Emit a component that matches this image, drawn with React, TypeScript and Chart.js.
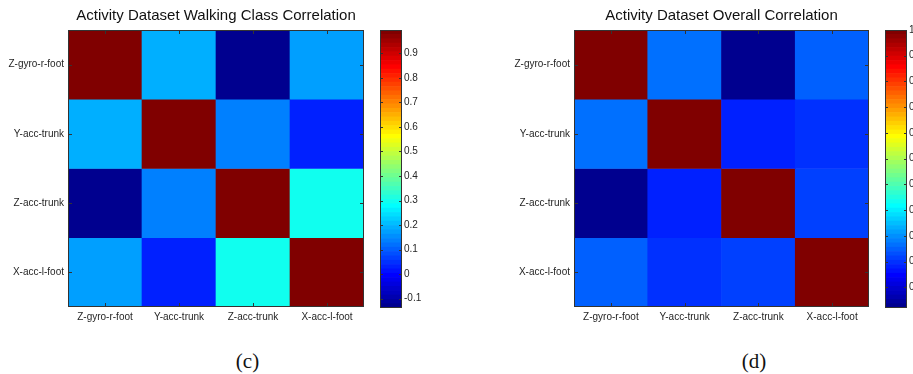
import { useEffect, useRef } from 'react';
import { Chart, registerables } from 'chart.js';

Chart.register(...registerables);

// Sensor channels, used for both matrix axes (top-to-bottom / left-to-right)
const FEATURES = ['Z-gyro-r-foot', 'Y-acc-trunk', 'Z-acc-trunk', 'X-acc-l-foot'];

// Walking class correlation matrix, one row per channel
const walkingZGyroRFoot = [0.995, 0.19, -0.138, 0.17];
const walkingYAccTrunk = [0.19, 0.995, 0.135, 0.03];
const walkingZAccTrunk = [-0.138, 0.135, 0.995, 0.3];
const walkingXAccLFoot = [0.17, 0.03, 0.3, 0.995];

// Overall correlation matrix, one row per channel
const overallZGyroRFoot = [1, 0.165, -0.08, 0.14];
const overallYAccTrunk = [0.165, 1, 0.085, 0.105];
const overallZAccTrunk = [-0.08, 0.085, 1, 0.12];
const overallXAccLFoot = [0.14, 0.105, 0.12, 1];

const WALKING_ROWS = [walkingZGyroRFoot, walkingYAccTrunk, walkingZAccTrunk, walkingXAccLFoot];
const OVERALL_ROWS = [overallZGyroRFoot, overallYAccTrunk, overallZAccTrunk, overallXAccLFoot];

const WALKING_TITLE = 'Activity Dataset Walking Class Correlation';
const OVERALL_TITLE = 'Activity Dataset Overall Correlation';
const COLORBAR_STEP = 0.1;

const SANS = 'Liberation Sans, Arial, Helvetica, sans-serif';
const CANVAS_H = 330;
const LEVELS = 64;

// Classic 64-level jet colormap
function jetU(k: number) {
  if (k < 1 || k > 47) return 0;
  if (k <= 16) return k / 16;
  if (k <= 31) return 1;
  return (48 - k) / 16;
}
function jet(i: number) {
  const n = i + 1;
  const c = [jetU(n - 24), jetU(n - 8), jetU(n + 8)].map((v) => Math.round(v * 255));
  return `rgb(${c[0]},${c[1]},${c[2]})`;
}
function levelOf(v: number, cmin: number, cmax: number) {
  return Math.min(LEVELS - 1, Math.max(0, Math.floor(((v - cmin) / (cmax - cmin)) * LEVELS)));
}

// Axes box with inward tick marks on every side
const frameTicks = {
  id: 'frameTicks',
  afterDatasetsDraw(chart: any, _args: any, opts: any) {
    const { ctx, chartArea: a } = chart;
    const len = opts.length;
    ctx.save();
    ctx.strokeStyle = opts.color;
    ctx.lineWidth = 1;
    ctx.beginPath();
    const xs = opts.xAxis ? chart.scales[opts.xAxis] : null;
    const ys = opts.yAxis ? chart.scales[opts.yAxis] : null;
    if (xs) {
      xs.ticks.forEach((_t: any, i: number) => {
        const x = Math.round(xs.getPixelForTick(i)) + 0.5;
        ctx.moveTo(x, a.bottom);
        ctx.lineTo(x, a.bottom - len);
        ctx.moveTo(x, a.top);
        ctx.lineTo(x, a.top + len);
      });
    }
    if (ys) {
      ys.ticks.forEach((_t: any, i: number) => {
        const y = Math.round(ys.getPixelForTick(i)) + 0.5;
        ctx.moveTo(a.left, y);
        ctx.lineTo(a.left + len, y);
        ctx.moveTo(a.right, y);
        ctx.lineTo(a.right - len, y);
      });
    }
    ctx.stroke();
    ctx.strokeRect(Math.round(a.left) + 0.5, Math.round(a.top) + 0.5, Math.round(a.right - a.left) - 1, Math.round(a.bottom - a.top) - 1);
    ctx.restore();
  },
};

type Geom = {
  heatLeft: number;
  heatWidth: number;
  yAxisWidth: number;
  padRight: number;
  barLeft: number;
  barWidth: number;
  barPadLeft: number;
  barAxisWidth: number;
};

function CorrelationPanel({ rows, title, geom }: { rows: number[][]; title: string; geom: Geom }) {
  const heatRef = useRef<HTMLCanvasElement>(null);
  const barRef = useRef<HTMLCanvasElement>(null);

  useEffect(() => {
    const all = rows.flat();
    const cmin = Math.min(...all);
    const cmax = Math.max(...all);
    const n = FEATURES.length;
    const tickFont = { family: SANS, size: 10 };
    const tickColor = '#262626';

    const heat = new Chart(heatRef.current as HTMLCanvasElement, {
      type: 'bar',
      data: {
        labels: FEATURES,
        datasets: rows.map((row, r) => ({
          data: row.map(() => [n - r - 1, n - r]),
          backgroundColor: row.map((v) => jet(levelOf(v, cmin, cmax))),
          grouped: false,
          barPercentage: 1,
          categoryPercentage: 1,
          borderWidth: 0,
        })),
      } as any,
      options: {
        responsive: false,
        animation: false,
        events: [],
        layout: { padding: { left: 0, right: geom.padRight, top: 0, bottom: 0 } },
        plugins: {
          legend: { display: false },
          tooltip: { enabled: false },
          title: {
            display: true,
            text: title,
            fullSize: false,
            color: '#111',
            font: { family: SANS, size: 15, weight: 'normal', lineHeight: 1.2 },
            padding: { top: 7, bottom: 5 },
          },
          frameTicks: { xAxis: 'x', yAxis: 'yl', length: 4, color: '#333' },
        } as any,
        scales: {
          x: {
            type: 'category',
            offset: true,
            grid: { display: false, drawTicks: false },
            border: { display: false },
            ticks: { font: tickFont, color: tickColor, padding: 4, maxRotation: 0, autoSkip: false },
            afterFit: (s: any) => {
              s.height = 23;
            },
          },
          y: { type: 'linear', min: 0, max: n, display: false },
          yl: {
            type: 'category',
            labels: FEATURES,
            position: 'left',
            offset: true,
            grid: { display: false, drawTicks: false },
            border: { display: false },
            ticks: { font: tickFont, color: tickColor, padding: 4, autoSkip: false },
            afterFit: (s: any) => {
              s.width = geom.yAxisWidth;
            },
          },
        } as any,
      },
      plugins: [frameTicks],
    });

    const span = (cmax - cmin) / LEVELS;
    const bands = Array.from({ length: LEVELS }, (_, i) => ({
      lo: cmin + i * span,
      hi: cmin + (i + 1) * span,
      color: jet(i),
    }));

    const bar = new Chart(barRef.current as HTMLCanvasElement, {
      type: 'bar',
      data: {
        labels: [''],
        datasets: bands.map((b) => ({
          data: [[b.lo, b.hi]],
          backgroundColor: b.color,
          grouped: false,
          barPercentage: 1,
          categoryPercentage: 1,
          borderWidth: 0,
        })),
      } as any,
      options: {
        responsive: false,
        animation: false,
        events: [],
        layout: { padding: { left: geom.barPadLeft, right: 0, top: 30, bottom: CANVAS_H - 308 } },
        plugins: {
          legend: { display: false },
          tooltip: { enabled: false },
          frameTicks: { yAxis: 'y', length: 3, color: '#333' },
        } as any,
        scales: {
          x: { display: false },
          y: {
            type: 'linear',
            position: 'right',
            min: cmin,
            max: cmax,
            grid: { display: false, drawTicks: false },
            border: { display: false },
            ticks: { stepSize: COLORBAR_STEP, includeBounds: false, font: tickFont, color: tickColor, padding: 2 },
            afterFit: (s: any) => {
              s.width = geom.barAxisWidth;
            },
          },
        } as any,
      },
      plugins: [frameTicks],
    });

    return () => {
      heat.destroy();
      bar.destroy();
    };
  }, [rows, title, geom]);

  return (
    <>
      <canvas
        ref={heatRef}
        width={geom.heatWidth}
        height={CANVAS_H}
        style={{ position: 'absolute', left: geom.heatLeft, top: 0, width: geom.heatWidth, height: CANVAS_H }}
      />
      <canvas
        ref={barRef}
        width={geom.barWidth}
        height={CANVAS_H}
        style={{ position: 'absolute', left: geom.barLeft, top: 0, width: geom.barWidth, height: CANVAS_H }}
      />
    </>
  );
}

const LEFT_GEOM: Geom = {
  heatLeft: 0,
  heatWidth: 372,
  yAxisWidth: 68,
  padRight: 8,
  barLeft: 374,
  barWidth: 60,
  barPadLeft: 6,
  barAxisWidth: 32,
};

const RIGHT_GEOM: Geom = {
  heatLeft: 500,
  heatWidth: 374,
  yAxisWidth: 74,
  padRight: 5,
  barLeft: 878,
  barWidth: 35,
  barPadLeft: 7,
  barAxisWidth: 6,
};

const captionStyle = (center: number) => ({
  position: 'absolute' as const,
  left: center - 40,
  width: 80,
  top: 351,
  textAlign: 'center' as const,
  font: '21px "Liberation Serif", "Times New Roman", serif',
  lineHeight: '21px',
  color: '#111',
});

export default function App() {
  return (
    <div
      style={{
        position: 'absolute',
        left: 0,
        top: 0,
        width: 913,
        height: 374,
        background: '#fff',
        overflow: 'hidden',
      }}
    >
      <CorrelationPanel rows={WALKING_ROWS} title={WALKING_TITLE} geom={LEFT_GEOM} />
      <CorrelationPanel rows={OVERALL_ROWS} title={OVERALL_TITLE} geom={RIGHT_GEOM} />
      <div style={captionStyle(247.5)}>(c)</div>
      <div style={captionStyle(754)}>(d)</div>
    </div>
  );
}
